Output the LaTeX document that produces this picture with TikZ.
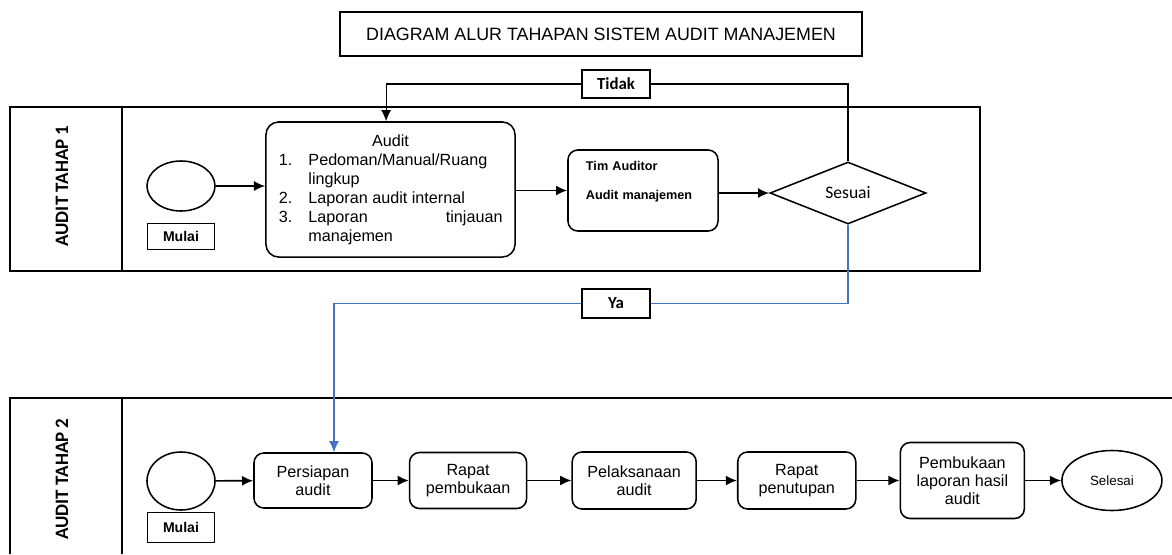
\documentclass[tikz,border=0pt]{standalone}
\usepackage{fontspec}
\setmainfont{Liberation Sans}
\newfontfamily\calfont{Carlito}
\usepackage{enumitem}
\usetikzlibrary{positioning}
\usetikzlibrary{arrows.meta}
\usetikzlibrary{shapes}
\definecolor{yablue}{RGB}{68,114,196}
\tikzset{
        boxnode/.style={align=center,inner sep=0pt},
        % Process steps
        node_process/.style={boxnode, rectangle, rounded corners=7pt, draw=black, line width=1.1pt, fill=white, font=\fontsize{11.5}{12.8}\selectfont},
        % Start and end ellipses
        node_terminal/.style={boxnode, ellipse, draw=black, line width=1.1pt, fill=white},
        % Plain label boxes
        node_label/.style={boxnode, rectangle, draw=black, line width=1.1pt, fill=white},
        % Decision
        node_decision/.style={boxnode, diamond, draw=black, line width=1.1pt, fill=white},
        % Lane titles
        node_lane/.style={boxnode, rotate=90, font=\calfont\bfseries\fontsize{13.5}{16}\selectfont},
        lane/.style={draw=black, line width=1.5pt},
        flow/.style={-{Latex[length=2.8mm, width=2.5mm]}, line width=1.2pt}
}
\begin{document}
\begin{tikzpicture}[x=0.025cm, y=-0.025cm]
    \useasboundingbox (0,0) rectangle (1172,554);
    \node[node_label, minimum width=13.05cm, minimum height=1.1cm, font=\fontsize{12.7}{15}\selectfont] (title) at (601,34) {DIAGRAM ALUR TAHAPAN SISTEM AUDIT MANAJEMEN};

    % Lane 1
    \draw[lane] (10,107) rectangle (980,271);
    \draw[lane] (122,107) -- (122,271);
    \node[node_lane] (lane1) at (62,186) {AUDIT TAHAP 1};
    \node[node_terminal, minimum width=1.7cm, minimum height=1.25cm] (start1) at (181,186) {};
    \node[node_label, minimum width=1.675cm, minimum height=0.65cm, font=\bfseries\fontsize{10}{12}\selectfont, below=0.275cm of start1] (mulai1) {Mulai};
    \node[node_process, rounded corners=9pt, minimum width=6.225cm, minimum height=3.375cm, text width=5.6cm, align=justify, font=\fontsize{11.5}{13.5}\selectfont] (audit) at (390.5,189.5) {%
        \hyphenpenalty=10000 \tolerance=10000
        {\centering Audit\par}
        \begin{enumerate}[nosep, leftmargin=0.75cm, labelsep=0.4cm]
            \item Pedoman/Manual/Ruang lingkup
            \item Laporan audit internal
            \item Laporan tinjauan manajemen
        \end{enumerate}};
    \node[node_process, minimum width=3.75cm, minimum height=2.025cm, text width=2.85cm, align=left, font=\bfseries\fontsize{9}{11}\selectfont] (tim) at (643,190.5) {Tim Auditor\\[10pt]Audit manajemen\\\strut};
    \node[node_decision, minimum width=3.9cm, minimum height=1.55cm, font=\calfont\fontsize{12.5}{15}\selectfont] (sesuai) at (848,193) {Sesuai};
    \node[node_label, minimum width=1.7cm, minimum height=0.7cm, font=\calfont\bfseries\fontsize{12}{14}\selectfont] (tidak) at (616,84) {Tidak};
    \node[node_label, minimum width=1.7cm, minimum height=0.72cm, font=\calfont\bfseries\fontsize{12}{14}\selectfont] (ya) at (616,303.5) {Ya};

    \draw[flow] (start1.east) -- (start1.east -| audit.west);
    \draw[flow] (audit.east |- tim.west) -- (tim.west);
    \draw[flow] (tim.east |- sesuai.west) -- (sesuai.west);
    \draw[line width=0.8pt] (sesuai.north) |- (tidak.east);
    \draw[flow, line width=0.8pt] (tidak.west) -| ([xshift=-0.11cm]audit.north);

    % Lane 2
    \draw[lane] (10,554) -- (10,398) -- (1172,398);
    \draw[lane] (122,398) -- (122,554);
    \node[node_lane] (lane2) at (62,479) {AUDIT TAHAP 2};
    \node[node_terminal, minimum width=1.7cm, minimum height=1.45cm] (start2) at (181,481) {};
    \node[node_label, minimum width=1.675cm, minimum height=0.75cm, font=\bfseries\fontsize{10}{12}\selectfont, below=0.025cm of start2] (mulai2) {Mulai};
    \node[node_process, minimum width=2.95cm, minimum height=1.375cm] (persiapan) at (313,480.5) {Persiapan\\audit};
    \node[node_process, minimum width=2.925cm, minimum height=1.4cm, right=0.9cm of persiapan] (pembukaan) {Rapat\\pembukaan};
    \node[node_process, minimum width=3.1cm, minimum height=1.425cm, right=1.1cm of pembukaan] (pelaksanaan) {Pelaksanaan\\audit};
    \node[node_process, minimum width=2.95cm, minimum height=1.425cm, right=1.0cm of pelaksanaan] (penutupan) {Rapat\\penutupan};
    \node[node_process, minimum width=3.1cm, minimum height=1.9cm, right=1.075cm of penutupan] (laporan) {Pembukaan\\laporan hasil\\audit};
    \node[node_terminal, minimum width=2.5cm, minimum height=1.5cm, font=\fontsize{9.5}{11}\selectfont, right=0.9cm of laporan] (selesai) {Selesai};

    \draw[yablue, line width=0.8pt] (sesuai.south) |- (ya.east);
    \draw[flow, yablue, line width=0.8pt] (ya.west) -| ([xshift=0.525cm]persiapan.north);
    \draw[flow] (start2) -- (persiapan);
    \draw[flow] (persiapan) -- (pembukaan);
    \draw[flow] (pembukaan) -- (pelaksanaan);
    \draw[flow] (pelaksanaan) -- (penutupan);
    \draw[flow] (penutupan) -- (laporan);
    \draw[flow] (laporan) -- (selesai);
\end{tikzpicture}
\end{document}
